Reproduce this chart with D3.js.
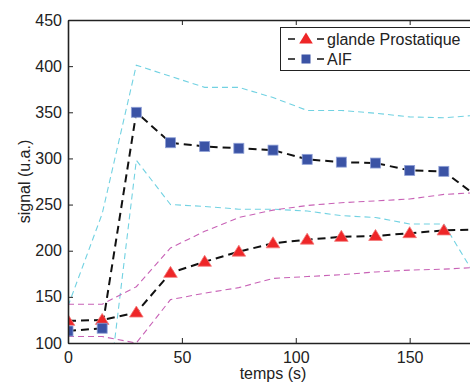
<!DOCTYPE html>
<html>
<head>
<meta charset="utf-8">
<script src="https://cdn.jsdelivr.net/npm/d3@7"></script>
<style>
  body { margin: 0; background: #fff; }
  svg { display: block; font-family: "Liberation Sans", Arial, sans-serif; }
</style>
</head>
<body>
<div id="chart"></div>
<script>
// time points (s)
const times = [0, 15, 30, 45, 60, 75, 90, 105, 120, 135, 150, 165, 180];

// prostate gland mean and +/- bands
const prostate      = [124, 125, 133, 176, 188, 199, 208, 212, 215, 216, 219, 222, 223];
const prostateUpper = [142, 142, 161, 203, 221, 236, 244, 249, 252, 254, 256, 261, 263];
const prostateLower = [107, 107, 100, 147, 154, 160, 170, 172, 174, 177, 179, 180, 182];

// AIF mean and +/- bands
const aif      = [113, 116, 350, 317, 313, 311, 309, 299, 296, 295, 287, 286, 258];
const aifUpper = [140, 240, 401, 389, 377, 377, 366, 352, 352, 349, 345, 344, 347];
const aifLower = [84, -10, 298, 250, 248, 245, 245, 243, 238, 236, 229, 229, 168];

const xTicks = [0, 50, 100, 150];
const yTicks = [100, 150, 200, 250, 300, 350, 400, 450];

const width = 470, height = 385;
const margin = { left: 68, top: 20, bottom: 42 };
const plotRight = 478;

const svg = d3.select('#chart').append('svg')
  .attr('width', width)
  .attr('height', height);

const xScale = d3.scaleLinear().domain([0, 180]).range([margin.left, plotRight]);
const yScale = d3.scaleLinear().domain([100, 450]).range([height - margin.bottom, margin.top]);

// clip the plot area
svg.append('clipPath').attr('id', 'clip')
  .append('rect')
  .attr('x', margin.left).attr('y', margin.top)
  .attr('width', plotRight - margin.left)
  .attr('height', yScale(100) - margin.top);

const plot = svg.append('g').attr('clip-path', 'url(#clip)');

const line = d3.line()
  .x(d => xScale(d[0]))
  .y(d => yScale(d[1]));

const pairs = vals => times.map((t, i) => [t, vals[i]]);

// bands
const bands = [
  { vals: aifUpper, color: '#72d2e2' },
  { vals: aifLower, color: '#72d2e2' },
  { vals: prostateUpper, color: '#c862b6' },
  { vals: prostateLower, color: '#c862b6' }
];
bands.forEach(b => {
  plot.append('path')
    .datum(pairs(b.vals))
    .attr('fill', 'none')
    .attr('stroke', b.color)
    .attr('stroke-width', 1.1)
    .attr('stroke-dasharray', '6,4')
    .attr('d', line);
});

// mean lines
[aif, prostate].forEach(vals => {
  plot.append('path')
    .datum(pairs(vals))
    .attr('fill', 'none')
    .attr('stroke', '#111')
    .attr('stroke-width', 2)
    .attr('stroke-dasharray', '8,5')
    .attr('d', line);
});

const triPath = 'M0,-6.5L6.8,4.5L-6.8,4.5Z';

// markers
plot.selectAll('.tri')
  .data(pairs(prostate))
  .enter().append('path')
  .attr('class', 'tri')
  .attr('d', triPath)
  .attr('transform', d => `translate(${xScale(d[0])},${yScale(d[1])})`)
  .attr('fill', '#ee2628')
  .attr('stroke', '#f47a7a')
  .attr('stroke-width', 0.8);

plot.selectAll('.sq')
  .data(pairs(aif))
  .enter().append('rect')
  .attr('class', 'sq')
  .attr('x', d => xScale(d[0]) - 5)
  .attr('y', d => yScale(d[1]) - 5)
  .attr('width', 10)
  .attr('height', 10)
  .attr('fill', '#3b53a5')
  .attr('stroke', '#8fa0d6')
  .attr('stroke-width', 0.8);

// axes
const axisColor = '#222';
const bottomY = yScale(100);

const xAxis = svg.append('g')
  .attr('transform', `translate(0,${bottomY})`)
  .call(d3.axisBottom(xScale).tickValues(xTicks).tickSizeInner(-5).tickSizeOuter(0).tickPadding(9));
const xAxisTop = svg.append('g')
  .attr('transform', `translate(0,${margin.top})`)
  .call(d3.axisTop(xScale).tickValues(xTicks).tickSizeInner(-5).tickSizeOuter(0).tickFormat(''));
const yAxis = svg.append('g')
  .attr('transform', `translate(${margin.left},0)`)
  .call(d3.axisLeft(yScale).tickValues(yTicks).tickSizeInner(-5).tickSizeOuter(0).tickPadding(6));

[xAxis, xAxisTop, yAxis].forEach(g => {
  g.select('.domain').attr('stroke', axisColor).attr('stroke-width', 1.6);
  g.selectAll('.tick line').attr('stroke', axisColor).attr('stroke-width', 1);
  g.selectAll('.tick text')
    .attr('fill', '#222')
    .style('font-size', '16px')
    .style('font-family', '"Liberation Sans", Arial, sans-serif');
});

// axis labels
svg.append('text')
  .attr('x', (margin.left + plotRight) / 2)
  .attr('y', 379)
  .attr('text-anchor', 'middle')
  .attr('fill', '#222')
  .style('font-size', '16px')
  .text('temps (s)');

svg.append('text')
  .attr('transform', `translate(30,${(margin.top + bottomY) / 2}) rotate(-90)`)
  .attr('text-anchor', 'middle')
  .attr('fill', '#222')
  .style('font-size', '16px')
  .text('signal (u.a.)');

// legend
const legend = svg.append('g');
legend.append('rect')
  .attr('x', 280.5).attr('y', 27.5)
  .attr('width', 200).attr('height', 43)
  .attr('fill', '#fff')
  .attr('stroke', '#222')
  .attr('stroke-width', 1);

const legendItems = [
  { label: 'glande Prostatique', y: 39, marker: 'tri' },
  { label: 'AIF', y: 59, marker: 'sq' }
];
legendItems.forEach(item => {
  legend.append('line')
    .attr('x1', 288).attr('x2', 324)
    .attr('y1', item.y).attr('y2', item.y)
    .attr('stroke', '#111')
    .attr('stroke-width', 1.5)
    .attr('stroke-dasharray', '7,22');
  if (item.marker === 'tri') {
    legend.append('path')
      .attr('d', triPath)
      .attr('transform', `translate(306,${item.y})`)
      .attr('fill', '#ee2628');
  } else {
    legend.append('rect')
      .attr('x', 301.5).attr('y', item.y - 4.5)
      .attr('width', 9).attr('height', 9)
      .attr('fill', '#3b53a5');
  }
  legend.append('text')
    .attr('x', 327)
    .attr('y', item.y + 6)
    .attr('fill', '#222')
    .style('font-size', '16px')
    .text(item.label);
});
</script>
</body>
</html>
